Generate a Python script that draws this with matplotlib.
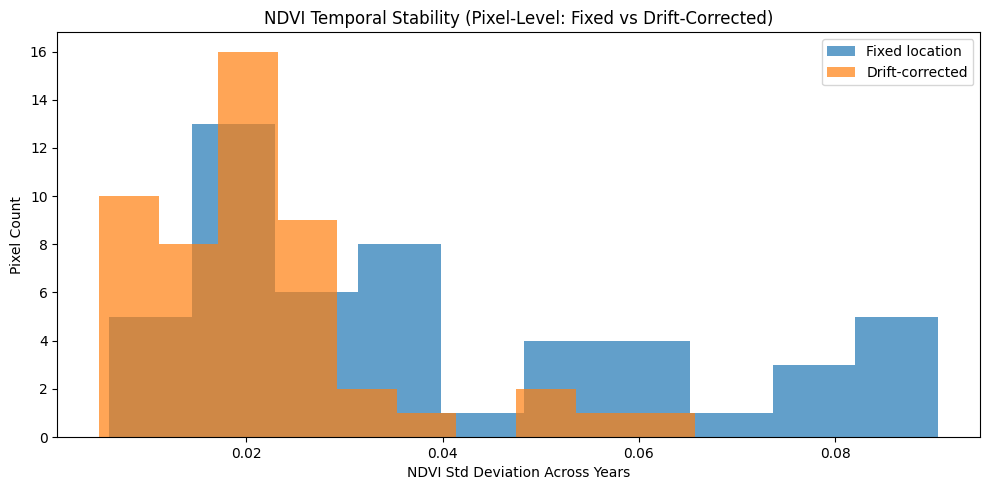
import numpy as np
import matplotlib
matplotlib.use("Agg")
import matplotlib.pyplot as plt

# Histogram data
fixed_range = (0.00603, 0.09052)
fixed_counts = [5, 13, 6, 8, 1, 4, 4, 1, 3, 5]

drift_range = (0.00501, 0.06568)
drift_counts = [10, 8, 16, 9, 2, 1, 0, 2, 1, 1]

labels = ["Fixed location", "Drift-corrected"]

fig, ax = plt.subplots(figsize=(9.89, 4.9), dpi=100)

for rng, counts, lab in [(fixed_range, fixed_counts, labels[0]),
                         (drift_range, drift_counts, labels[1])]:
    edges = np.linspace(rng[0], rng[1], len(counts) + 1)
    centers = (edges[:-1] + edges[1:]) / 2
    ax.hist(centers, bins=edges, weights=counts, alpha=0.7, label=lab)

ax.set_title("NDVI Temporal Stability (Pixel-Level: Fixed vs Drift-Corrected)")
ax.set_xlabel("NDVI Std Deviation Across Years")
ax.set_ylabel("Pixel Count")
ax.set_yticks(range(0, 17, 2))
ax.legend(loc="upper right")
fig.subplots_adjust(left=57.3 / 989, right=980.3 / 989,
                    top=1 - 32.3 / 490, bottom=1 - 437 / 490)
fig.savefig("out.png", dpi=100)
